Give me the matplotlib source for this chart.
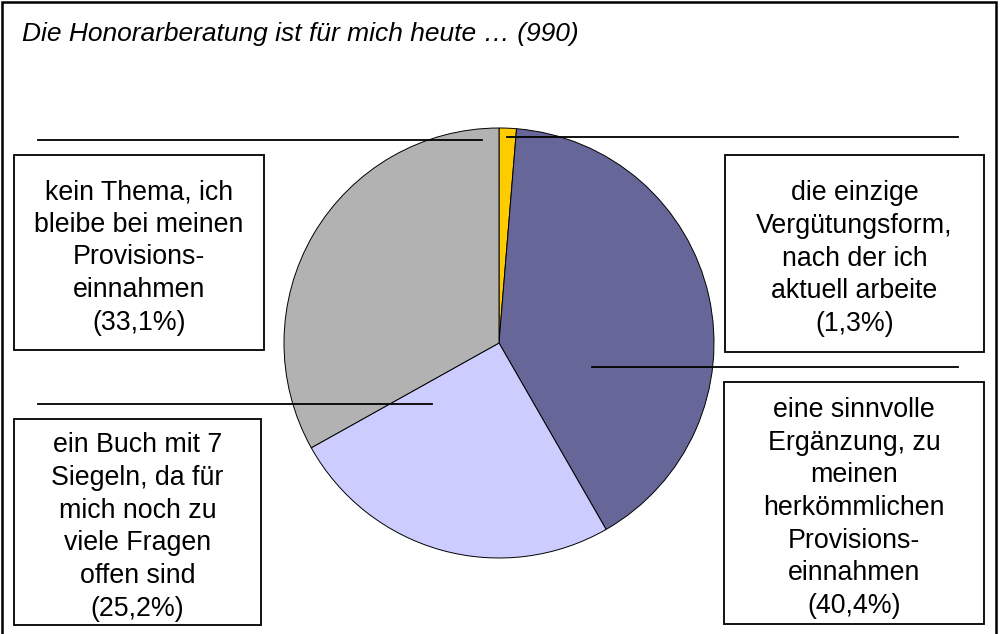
import matplotlib
matplotlib.use("Agg")
import matplotlib.pyplot as plt
from matplotlib.patches import Rectangle

plt.rcParams['font.family'] = ['Liberation Sans', 'DejaVu Sans']

title = "Die Honorarberatung ist für mich heute … (990)"
categories = [
    "die einzige\nVergütungsform,\nnach der ich\naktuell arbeite",
    "eine sinnvolle\nErgänzung, zu\nmeinen\nherkömmlichen\nProvisions-\neinnahmen",
    "ein Buch mit 7\nSiegeln, da für\nmich noch zu\nviele Fragen\noffen sind",
    "kein Thema, ich\nbleibe bei meinen\nProvisions-\neinnahmen",
]
values = [1.3, 40.4, 25.2, 33.1]
value_labels = ["(1,3%)", "(40,4%)", "(25,2%)", "(33,1%)"]
colors = ["#FFCC00", "#666699", "#CCCCFF", "#B2B2B2"]

W, H = 1000, 634
fig = plt.figure(figsize=(W / 100, H / 100), dpi=100)
ax = fig.add_axes([0, 0, 1, 1])
ax.set_xlim(0, W)
ax.set_ylim(0, H)
ax.set_aspect('equal')
ax.axis('off')

def Y(y):
    return H - y

# outer frame
ax.plot([1.5, 1.5, 996, 996], [Y(700), Y(1.5), Y(1.5), Y(700)], color='black', lw=1.8,
        solid_joinstyle='miter', clip_on=False)

ax.text(22, Y(34), title, fontsize=19, style='italic', ha='left', va='center')

cx, cy, r = 499, Y(343), 215
ax.pie(values, colors=colors, startangle=90, counterclock=False,
       center=(cx, cy), radius=r, frame=True,
       wedgeprops=dict(edgecolor='black', linewidth=0.7))
ax.set_xlim(0, W)
ax.set_ylim(0, H)
ax.axis('off')

# leader lines (image coords)
leaders = [(507, 958, 137), (592, 958, 367), (38, 432, 404), (38, 482, 140)]
for x0, x1, yy in leaders:
    ax.plot([x0, x1], [Y(yy), Y(yy)], color='black', lw=1.3, zorder=5)

# label boxes (left, top, right, bottom) in image coords
boxes = [(725, 155, 984, 352), (724, 382, 984, 624), (14, 419, 261, 625), (14, 155, 264, 350)]
for (l, t, rr, b), cat, vl in zip(boxes, categories, value_labels):
    ax.add_patch(Rectangle((l, Y(b)), rr - l, b - t, facecolor='white',
                           edgecolor='black', lw=1.3, zorder=6))
    ax.text((l + rr) / 2, Y((t + b) / 2 + 5), cat + "\n" + vl, fontsize=19.3,
            ha='center', va='center', linespacing=1.33, zorder=7)

fig.savefig("out.png", dpi=100)
